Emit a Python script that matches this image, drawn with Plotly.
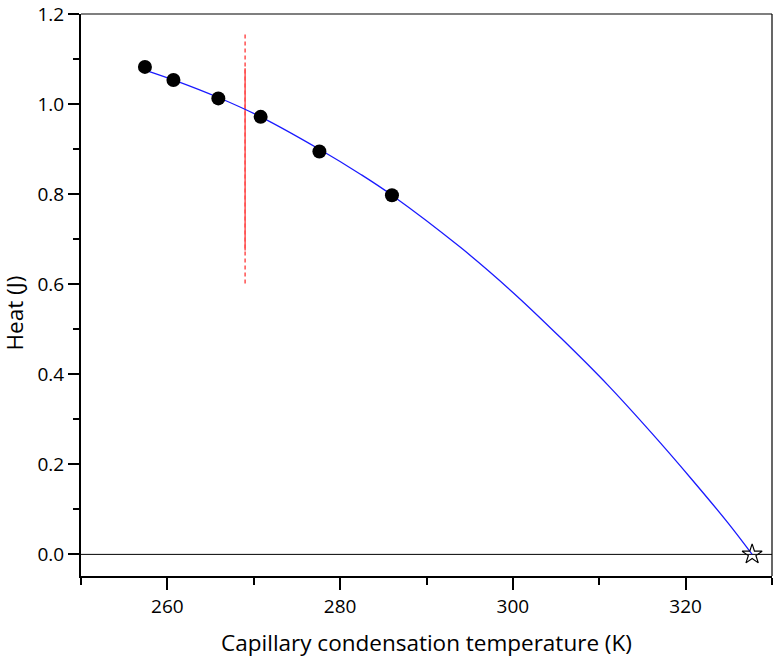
import plotly.graph_objects as go

# Measured data points
temp_k = [257.4, 260.7, 265.9, 270.8, 277.6, 286.0]
heat_j = [1.083, 1.054, 1.013, 0.972, 0.895, 0.798]

# Fitted curve
fit_x = [257.4, 261.0, 265.9, 270.8, 277.6, 282.4, 286.0, 294.0, 300.0, 305.6, 311.0, 316.0, 320.7, 324.9, 327.7]
fit_y = [1.076, 1.052, 1.015, 0.972, 0.900, 0.844, 0.798, 0.681, 0.582, 0.480, 0.376, 0.271, 0.167, 0.070, 0.0]

# Extrapolated end point (star)
star_x = [327.7]
star_y = [0.0]

# Red vertical marker
red_x_dash = [269.0, 269.0]
red_y_dash = [1.155, 0.600]
red_x_solid = [269.0, 269.0]
red_y_solid = [1.08, 0.675]

FONT = "Open Sans"

fig = go.Figure()
fig.add_trace(go.Scatter(x=red_x_dash, y=red_y_dash, mode="lines",
                         line=dict(color="#ff5050", width=1.5, dash="4px,3px"),
                         showlegend=False, hoverinfo="skip"))
fig.add_trace(go.Scatter(x=red_x_solid, y=red_y_solid, mode="lines",
                         line=dict(color="#ff5050", width=1.5),
                         showlegend=False, hoverinfo="skip"))
fig.add_trace(go.Scatter(x=fit_x, y=fit_y, mode="lines",
                         line=dict(color="#1a1aff", width=1.3, shape="spline", smoothing=1.0),
                         showlegend=False))
fig.add_trace(go.Scatter(x=temp_k, y=heat_j, mode="markers",
                         marker=dict(color="black", size=14, line=dict(width=0)),
                         showlegend=False))
fig.add_trace(go.Scatter(x=star_x, y=star_y, mode="markers",
                         marker=dict(symbol="star-open", color="black", size=15, line=dict(width=1.2)),
                         showlegend=False, cliponaxis=False))

fig.update_layout(
    width=780, height=658,
    margin=dict(l=81, r=8, t=14, b=82, autoexpand=False),
    paper_bgcolor="white", plot_bgcolor="white",
    font=dict(family=FONT, color="black", size=19),
    xaxis=dict(
        range=[250, 330], dtick=20, tick0=260, automargin=False,
        showgrid=False, zeroline=False,
        showline=True, linecolor="black", linewidth=2,
        ticks="outside", ticklen=12, tickwidth=2, tickcolor="black",
        tickfont=dict(size=19, family=FONT),
        minor=dict(ticks="outside", ticklen=7, tickwidth=2, tickcolor="black", dtick=10, tick0=250, showgrid=False),
        title=dict(text="Capillary condensation temperature (K)", font=dict(size=22.5, family=FONT), standoff=17),
    ),
    yaxis=dict(
        range=[-0.048, 1.2005], dtick=0.2, tick0=0, automargin=False,
        tickformat=".1f", ticklabeloverflow="allow",
        showgrid=False, zeroline=False,
        showline=True, linecolor="black", linewidth=2,
        ticks="outside", ticklen=11, tickwidth=2, tickcolor="black",
        tickfont=dict(size=19, family=FONT),
        minor=dict(ticks="outside", ticklen=6, tickwidth=2, tickcolor="black", dtick=0.1, tick0=0, showgrid=False),
    ),
    shapes=[
        dict(type="line", xref="paper", yref="paper", x0=0, x1=1, y0=1, y1=1,
             line=dict(color="black", width=1.2)),
        dict(type="line", xref="paper", yref="paper", x0=1, x1=1, y0=0, y1=1,
             line=dict(color="black", width=1.2)),
        dict(type="line", xref="paper", yref="y", x0=0, x1=1, y0=0, y1=0,
             line=dict(color="black", width=1), layer="below"),
    ],
    annotations=[
        dict(text="Heat (J)", xref="paper", yref="paper", x=0, y=0.467,
             xanchor="center", yanchor="middle", xshift=-66, textangle=-90,
             showarrow=False, font=dict(size=22.5, family=FONT, color="black")),
    ],
)

fig.write_html("out.html")
